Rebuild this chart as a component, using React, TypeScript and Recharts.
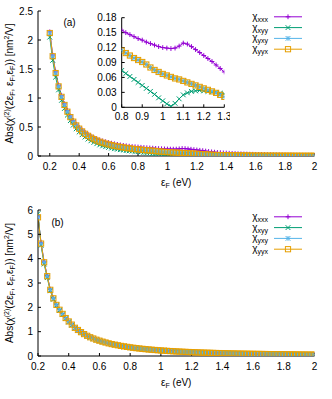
import React from "react"
import { LineChart, Line, XAxis, YAxis, Legend, Customized } from "recharts"

// photon energy grid (eV)
const EF = [
  0.2, 0.22, 0.24, 0.26, 0.28, 0.3, 0.32, 0.34, 0.36, 0.38,
  0.4, 0.42, 0.44, 0.46, 0.48, 0.5, 0.52, 0.54, 0.56, 0.58,
  0.6, 0.62, 0.64, 0.66, 0.68, 0.7, 0.72, 0.74, 0.76, 0.78,
  0.8, 0.82, 0.84, 0.86, 0.88, 0.9, 0.92, 0.94, 0.96, 0.98,
  1, 1.02, 1.04, 1.06, 1.08, 1.1, 1.12, 1.14, 1.16, 1.18,
  1.2, 1.22, 1.24, 1.26, 1.28, 1.3, 1.32, 1.34, 1.36, 1.38,
  1.4, 1.42, 1.44, 1.46, 1.48, 1.5, 1.52, 1.54, 1.56, 1.58,
  1.6, 1.62, 1.64, 1.66, 1.68, 1.7, 1.72, 1.74, 1.76, 1.78,
  1.8, 1.82, 1.84, 1.86, 1.88, 1.9, 1.92, 1.94, 1.96, 1.98,
  2,
]

// panel (a)
const A_XXX = [
  2.14, 1.74, 1.45, 1.22, 1.04, 0.9, 0.785, 0.69, 0.613, 0.549,
  0.494, 0.448, 0.407, 0.373, 0.343, 0.317, 0.295, 0.276, 0.26, 0.246,
  0.233, 0.221, 0.21, 0.2, 0.191, 0.183, 0.176, 0.169, 0.163, 0.159,
  0.155, 0.15, 0.146, 0.142, 0.138, 0.135, 0.131, 0.128, 0.125, 0.122,
  0.12, 0.119, 0.118, 0.119, 0.123, 0.129, 0.127, 0.122, 0.116, 0.11,
  0.104, 0.098, 0.092, 0.085, 0.078, 0.071, 0.066, 0.061, 0.057, 0.053,
  0.05, 0.047, 0.044, 0.042, 0.039, 0.037, 0.035, 0.033, 0.031, 0.03,
  0.028, 0.027, 0.026, 0.024, 0.023, 0.022, 0.021, 0.02, 0.019, 0.018,
  0.017, 0.016, 0.016, 0.015, 0.014, 0.014, 0.013, 0.012, 0.012, 0.011,
  0.011,
]
const A_XYY = [
  2.05, 1.65, 1.36, 1.14, 0.96, 0.82, 0.705, 0.61, 0.533, 0.469,
  0.414, 0.367, 0.327, 0.292, 0.262, 0.235, 0.212, 0.191, 0.175, 0.161,
  0.148, 0.136, 0.126, 0.117, 0.109, 0.102, 0.095, 0.089, 0.084, 0.079,
  0.074, 0.068, 0.062, 0.056, 0.05, 0.044, 0.038, 0.032, 0.026, 0.019,
  0.013, 0.007, 0.002, 0.008, 0.017, 0.025, 0.029, 0.032, 0.033, 0.034,
  0.033, 0.032, 0.031, 0.03, 0.028, 0.027, 0.025, 0.024, 0.022, 0.021,
  0.02, 0.019, 0.018, 0.017, 0.016, 0.015, 0.014, 0.013, 0.013, 0.012,
  0.011, 0.011, 0.01, 0.01, 0.009, 0.009, 0.008, 0.008, 0.008, 0.007,
  0.007, 0.007, 0.006, 0.006, 0.006, 0.006, 0.005, 0.005, 0.005, 0.005,
  0.005,
]
const A_YYX = [
  2.12, 1.72, 1.43, 1.2, 1.02, 0.88, 0.764, 0.67, 0.592, 0.527,
  0.471, 0.424, 0.383, 0.348, 0.317, 0.29, 0.267, 0.246, 0.229, 0.214,
  0.2, 0.187, 0.176, 0.166, 0.156, 0.148, 0.14, 0.132, 0.126, 0.119,
  0.114, 0.109, 0.104, 0.099, 0.095, 0.091, 0.086, 0.08, 0.075, 0.071,
  0.067, 0.064, 0.061, 0.058, 0.056, 0.053, 0.05, 0.047, 0.044, 0.041,
  0.038, 0.035, 0.032, 0.029, 0.025, 0.021, 0.019, 0.017, 0.016, 0.014,
  0.013, 0.012, 0.011, 0.011, 0.01, 0.009, 0.009, 0.008, 0.008, 0.008,
  0.007, 0.007, 0.007, 0.006, 0.006, 0.006, 0.006, 0.005, 0.005, 0.005,
  0.005, 0.005, 0.005, 0.004, 0.004, 0.004, 0.004, 0.004, 0.004, 0.004,
  0.004,
]
// yxy lies under yyx everywhere in the figure
const A_YXY = A_YYX

// panel (b)
const B_XXX = [
  5.72, 4.65, 3.87, 3.3, 2.74, 2.38, 2.11, 1.91, 1.74, 1.57,
  1.43, 1.3, 1.17, 1.08, 0.99, 0.91, 0.84, 0.78, 0.73, 0.68,
  0.64, 0.6, 0.56, 0.525, 0.495, 0.47, 0.445, 0.42, 0.4, 0.38,
  0.36, 0.344, 0.328, 0.313, 0.299, 0.286, 0.274, 0.263, 0.252, 0.242,
  0.233, 0.224, 0.216, 0.208, 0.2, 0.193, 0.186, 0.179, 0.173, 0.168,
  0.162, 0.157, 0.152, 0.147, 0.142, 0.138, 0.134, 0.13, 0.126, 0.123,
  0.119, 0.116, 0.113, 0.11, 0.107, 0.104, 0.101, 0.099, 0.096, 0.094,
  0.091, 0.089, 0.087, 0.085, 0.083, 0.081, 0.079, 0.077, 0.076, 0.074,
  0.072, 0.071, 0.069, 0.068, 0.066, 0.065, 0.064, 0.062, 0.061, 0.06,
  0.059,
]
const B_XYY = [
  5.85, 4.55, 3.78, 3.22, 2.68, 2.33, 2.07, 1.87, 1.7, 1.54,
  1.4, 1.27, 1.15, 1.06, 0.97, 0.89, 0.82, 0.76, 0.71, 0.66,
  0.62, 0.58, 0.545, 0.51, 0.48, 0.455, 0.43, 0.41, 0.39, 0.37,
  0.35, 0.334, 0.318, 0.303, 0.289, 0.276, 0.264, 0.253, 0.242, 0.232,
  0.223, 0.214, 0.206, 0.198, 0.191, 0.184, 0.178, 0.171, 0.165, 0.16,
  0.154, 0.149, 0.145, 0.14, 0.136, 0.132, 0.128, 0.124, 0.12, 0.117,
  0.113, 0.11, 0.107, 0.104, 0.101, 0.099, 0.096, 0.094, 0.091, 0.089,
  0.087, 0.085, 0.083, 0.081, 0.079, 0.077, 0.075, 0.074, 0.072, 0.07,
  0.069, 0.067, 0.066, 0.064, 0.063, 0.062, 0.06, 0.059, 0.058, 0.057,
  0.056,
]
const B_YYX = [
  5.7, 4.62, 3.85, 3.28, 2.72, 2.37, 2.1, 1.9, 1.73, 1.56,
  1.42, 1.29, 1.16, 1.07, 0.98, 0.9, 0.83, 0.77, 0.72, 0.67,
  0.63, 0.59, 0.555, 0.52, 0.49, 0.465, 0.44, 0.415, 0.395, 0.375,
  0.355, 0.339, 0.323, 0.308, 0.294, 0.281, 0.269, 0.258, 0.247, 0.237,
  0.228, 0.219, 0.211, 0.203, 0.195, 0.188, 0.182, 0.175, 0.169, 0.164,
  0.158, 0.153, 0.148, 0.144, 0.139, 0.135, 0.131, 0.127, 0.123, 0.12,
  0.116, 0.113, 0.11, 0.107, 0.104, 0.101, 0.099, 0.096, 0.094, 0.091,
  0.089, 0.087, 0.085, 0.083, 0.081, 0.079, 0.077, 0.075, 0.074, 0.072,
  0.07, 0.069, 0.067, 0.066, 0.065, 0.063, 0.062, 0.061, 0.059, 0.058,
  0.057,
]
const B_YXY = B_YYX

const X_TICKS = [0.2, 0.4, 0.6, 0.8, 1, 1.2, 1.4, 1.6, 1.8, 2]
const A_Y_TICKS = [0, 0.5, 1, 1.5, 2, 2.5]
const B_Y_TICKS = [0, 1, 2, 3, 4, 5, 6]
const INSET_X_TICKS = [0.8, 0.9, 1, 1.1, 1.2, 1.3]
const INSET_Y_TICKS = [0, 0.03, 0.06, 0.09, 0.12, 0.15, 0.18]

const SERIES = [
  { key: "xxx", color: "#9400d3", shape: "plus" },
  { key: "xyy", color: "#009e73", shape: "cross" },
  { key: "yxy", color: "#56b4e9", shape: "star" },
  { key: "yyx", color: "#e69f00", shape: "square" },
]

const panelA = EF.map((x, i) => ({ x, xxx: A_XXX[i], xyy: A_XYY[i], yxy: A_YXY[i], yyx: A_YYX[i] }))
const panelB = EF.map((x, i) => ({ x, xxx: B_XXX[i], xyy: B_XYY[i], yxy: B_YXY[i], yyx: B_YYX[i] }))
const insetData = panelA.filter((d) => d.x >= 0.8 && d.x <= 1.3)

const FONT = "'Liberation Sans', Arial, Helvetica, sans-serif"
const tickStyle = { fontSize: 10, fill: "#000", fontFamily: FONT }

function Marker({ cx, cy, shape, color }: { cx?: number; cy?: number; shape: string; color: string }) {
  if (cx == null || cy == null) return null
  if (shape === "square") {
    return <rect x={cx - 2.6} y={cy - 2.6} width={5.2} height={5.2} fill="none" stroke={color} strokeWidth={1} />
  }
  const s = 2.4
  const plus = `M${cx - s},${cy}H${cx + s}M${cx},${cy - s}V${cy + s}`
  const cross = `M${cx - s},${cy - s}L${cx + s},${cy + s}M${cx - s},${cy + s}L${cx + s},${cy - s}`
  const d = shape === "plus" ? plus : shape === "cross" ? cross : plus + cross
  return <path d={d} stroke={color} strokeWidth={1} fill="none" />
}

function YTitle({ viewBox }: any) {
  const cy = viewBox ? viewBox.y + viewBox.height / 2 : 83
  return (
    <text transform={`translate(13, ${cy}) rotate(-90)`} textAnchor="middle" fontSize={10} fontFamily={FONT} fill="#000">
      Abs(χ<tspan fontSize={7} dy={-4}>(2)</tspan>
      <tspan dy={4}>(2ε</tspan>
      <tspan fontSize={7} dy={2}>F</tspan>
      <tspan dy={-2}>, ε</tspan>
      <tspan fontSize={7} dy={2}>F</tspan>
      <tspan dy={-2}>,ε</tspan>
      <tspan fontSize={7} dy={2}>F</tspan>
      <tspan dy={-2}>)) [nm</tspan>
      <tspan fontSize={7} dy={-4}>2</tspan>
      <tspan dy={4}>/V]</tspan>
    </text>
  )
}

function XTitle({ viewBox }: any) {
  const cx = viewBox ? viewBox.x + viewBox.width / 2 : 176
  const y = viewBox ? viewBox.y + 29.5 : 185
  return (
    <text x={cx} y={y} textAnchor="middle" fontSize={10} fontFamily={FONT} fill="#000">
      ε<tspan fontSize={7} dy={2}>F</tspan>
      <tspan dy={-2}> (eV)</tspan>
    </text>
  )
}

function KeyBox() {
  return (
    <svg width={90} height={50}>
      {SERIES.map((s, i) => {
        const y = 8.8 + i * 10.8
        return (
          <g key={s.key}>
            <text x={33} y={y + 3} textAnchor="end" fontSize={10} fontFamily={FONT} fill="#000">
              χ<tspan fontSize={7} dy={2}>{s.key}</tspan>
            </text>
            <line x1={39} x2={67} y1={y} y2={y} stroke={s.color} strokeWidth={1} />
            <Marker cx={53} cy={y} shape={s.shape} color={s.color} />
          </g>
        )
      })}
    </svg>
  )
}

function Tag({ x, text }: { x: number; text: string }) {
  return (
    <text x={x} y={26} textAnchor="middle" fontSize={10} fontFamily={FONT} fill="#000">
      {text}
    </text>
  )
}

function seriesLines(xId: string, yId: string) {
  return SERIES.map((s) => (
    <Line
      key={s.key}
      xAxisId={xId}
      yAxisId={yId}
      dataKey={s.key}
      type="linear"
      stroke={s.color}
      strokeWidth={1}
      dot={(p: any) => <Marker key={`${s.key}-${p.index}`} cx={p.cx} cy={p.cy} shape={s.shape} color={s.color} />}
      activeDot={false}
      isAnimationActive={false}
    />
  ))
}

function Panel({ data, xDomain, yDomain, yTicks, height, margin, tag, tagX }: any) {
  return (
    <LineChart width={332} height={height} data={data} margin={margin}>
      <XAxis
        xAxisId="b"
        dataKey="x"
        type="number"
        domain={xDomain}
        ticks={X_TICKS}
        interval={0}
        tick={tickStyle}
        tickSize={-3}
        tickMargin={10}
        height={30}
        stroke="#000"
        allowDataOverflow
        label={{ content: (p: any) => <XTitle viewBox={p.viewBox} /> }}
      />
      <XAxis xAxisId="t" orientation="top" type="number" domain={xDomain} ticks={X_TICKS} interval={0} tick={false} tickSize={-3} height={0} stroke="#000" allowDataOverflow />
      <YAxis
        yAxisId="l"
        type="number"
        domain={yDomain}
        ticks={yTicks}
        interval={0}
        tick={tickStyle}
        tickSize={-3}
        tickMargin={8}
        width={38}
        stroke="#000"
        allowDataOverflow
        label={{ content: (p: any) => <YTitle viewBox={p.viewBox} /> }}
      />
      <YAxis yAxisId="r" orientation="right" type="number" domain={yDomain} ticks={yTicks} interval={0} tick={false} tickSize={-3} width={0} stroke="#000" allowDataOverflow />
      {seriesLines("b", "l")}
      <Customized component={<Tag x={tagX} text={tag} />} />
      <Legend
        layout="vertical"
        align="center"
        verticalAlign="middle"
        wrapperStyle={{ left: 235, top: 8, width: 90, height: 50 }}
        content={() => <KeyBox />}
      />
    </LineChart>
  )
}

function Inset() {
  return (
    <LineChart width={140} height={115} data={insetData} margin={{ top: 7.7, right: 5.7, bottom: 0, left: 0 }}>
      <XAxis
        xAxisId="b"
        dataKey="x"
        type="number"
        domain={[0.8, 1.3]}
        ticks={INSET_X_TICKS}
        interval={0}
        tick={tickStyle}
        tickSize={-3}
        tickMargin={9}
        height={17.7}
        stroke="#000"
        allowDataOverflow
      />
      <XAxis xAxisId="t" orientation="top" type="number" domain={[0.8, 1.3]} ticks={INSET_X_TICKS} interval={0} tick={false} tickSize={-3} height={0} stroke="#000" allowDataOverflow />
      <YAxis
        yAxisId="l"
        type="number"
        domain={[0, 0.18]}
        ticks={INSET_Y_TICKS}
        interval={0}
        tick={tickStyle}
        tickSize={-3}
        tickMargin={8}
        width={31.7}
        stroke="#000"
        allowDataOverflow
      />
      <YAxis yAxisId="r" orientation="right" type="number" domain={[0, 0.18]} ticks={INSET_Y_TICKS} interval={0} tick={false} tickSize={-3} width={0} stroke="#000" allowDataOverflow />
      {seriesLines("b", "l")}
    </LineChart>
  )
}

export default function App() {
  return (
    <div style={{ position: "absolute", left: 0, top: 0, width: 332, height: 399, background: "#fff" }}>
      <div style={{ position: "absolute", left: 0, top: 0 }}>
        <Panel
          data={panelA}
          xDomain={[0.12, 2]}
          yDomain={[0, 2.5]}
          yTicks={A_Y_TICKS}
          height={200}
          margin={{ top: 11, right: 17.5, bottom: 14, left: 0 }}
          tag="(a)"
          tagX={69.5}
        />
      </div>
      <div style={{ position: "absolute", left: 90, top: 10 }}>
        <Inset />
      </div>
      <div style={{ position: "absolute", left: 0, top: 200 }}>
        <Panel
          data={panelB}
          xDomain={[0.2, 2]}
          yDomain={[0, 6]}
          yTicks={B_Y_TICKS}
          height={199}
          margin={{ top: 10, right: 17.5, bottom: 13, left: 0 }}
          tag="(b)"
          tagX={57.5}
        />
      </div>
    </div>
  )
}
